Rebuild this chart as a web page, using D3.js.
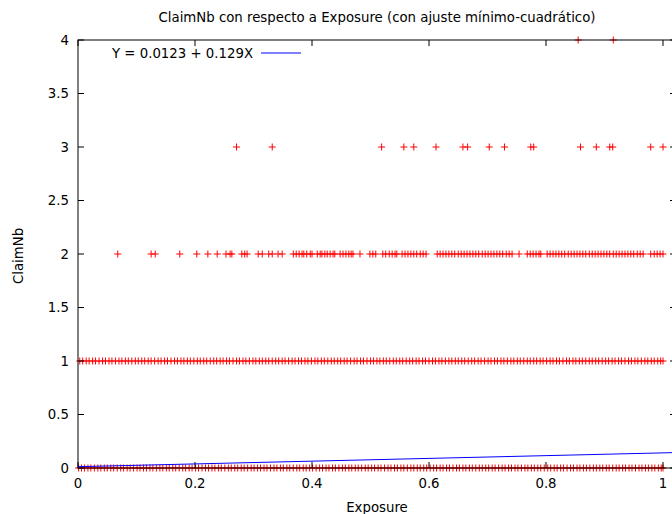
<!DOCTYPE html>
<html>
<head>
<meta charset="utf-8">
<script src="https://cdn.jsdelivr.net/npm/d3@7"></script>
<style>
  body { margin: 0; background: #fff; }
  svg { display: block; font-family: "DejaVu Sans", Verdana, sans-serif; }
</style>
</head>
<body>
<div id="chart"></div>
<script>
// Exposure values for each ClaimNb level
var exposure0 = [0.001,0.006,0.011,0.017,0.022,0.028,0.034,0.039,0.045,0.050,0.056,0.061,0.067,0.073,0.078,0.084,0.089,0.095,0.101,0.106,0.112,0.117,0.123,0.128,0.134,0.140,0.145,0.151,0.156,0.162,0.167,0.173,0.179,0.184,0.190,0.195,0.201,0.206,0.212,0.218,0.223,0.229,0.234,0.240,0.245,0.251,0.257,0.262,0.268,0.273,0.279,0.284,0.290,0.296,0.301,0.307,0.312,0.318,0.323,0.329,0.335,0.340,0.346,0.351,0.357,0.362,0.368,0.374,0.379,0.385,0.390,0.396,0.401,0.407,0.413,0.418,0.424,0.429,0.435,0.440,0.446,0.452,0.457,0.463,0.468,0.474,0.479,0.485,0.491,0.496,0.502,0.507,0.513,0.518,0.524,0.530,0.535,0.541,0.546,0.552,0.557,0.563,0.569,0.574,0.580,0.585,0.591,0.596,0.602,0.608,0.613,0.619,0.624,0.630,0.635,0.641,0.647,0.652,0.658,0.663,0.669,0.674,0.680,0.686,0.691,0.697,0.702,0.708,0.713,0.719,0.725,0.730,0.736,0.741,0.747,0.752,0.758,0.764,0.769,0.775,0.780,0.786,0.791,0.797,0.803,0.808,0.814,0.819,0.825,0.830,0.836,0.842,0.847,0.853,0.858,0.864,0.869,0.875,0.881,0.886,0.892,0.897,0.903,0.908,0.914,0.920,0.925,0.931,0.936,0.942,0.947,0.953,0.959,0.964,0.970,0.975,0.981,0.986,0.992,0.997,1.000];
var exposure1 = [0.003,0.008,0.014,0.019,0.025,0.030,0.036,0.042,0.047,0.053,0.058,0.064,0.070,0.075,0.081,0.086,0.092,0.098,0.103,0.109,0.114,0.120,0.125,0.131,0.137,0.142,0.148,0.153,0.159,0.165,0.170,0.176,0.181,0.187,0.192,0.198,0.204,0.209,0.215,0.220,0.226,0.232,0.237,0.243,0.248,0.254,0.259,0.265,0.271,0.276,0.282,0.287,0.293,0.299,0.304,0.310,0.315,0.321,0.326,0.332,0.338,0.343,0.349,0.354,0.360,0.366,0.371,0.377,0.382,0.388,0.393,0.399,0.405,0.410,0.416,0.421,0.427,0.433,0.438,0.444,0.449,0.455,0.460,0.466,0.472,0.477,0.483,0.488,0.494,0.500,0.505,0.511,0.516,0.522,0.527,0.533,0.539,0.544,0.550,0.555,0.561,0.567,0.572,0.578,0.583,0.589,0.594,0.600,0.606,0.611,0.617,0.622,0.628,0.634,0.639,0.645,0.650,0.656,0.661,0.667,0.673,0.678,0.684,0.689,0.695,0.701,0.706,0.712,0.717,0.723,0.728,0.734,0.740,0.745,0.751,0.756,0.762,0.768,0.773,0.779,0.784,0.790,0.795,0.801,0.807,0.812,0.818,0.823,0.829,0.835,0.840,0.846,0.851,0.857,0.862,0.868,0.874,0.879,0.885,0.890,0.896,0.902,0.907,0.913,0.918,0.924,0.929,0.935,0.941,0.946,0.952,0.957,0.963,0.969,0.974,0.980,0.985,0.991,0.996,1.000];
var exposure2 = [0.068,0.125,0.132,0.174,0.203,0.222,0.238,0.253,0.260,0.263,0.280,0.285,0.289,0.308,0.315,0.326,0.332,0.342,0.349,
  0.368,0.373,0.378,0.383,0.386,0.391,0.397,0.400,0.409,0.414,0.417,0.422,0.426,0.431,0.436,0.439,0.448,0.453,0.458,0.463,0.467,0.470,
  0.482,0.499,0.504,0.509,0.521,0.526,0.532,0.537,0.542,0.545,0.554,0.559,0.564,0.569,0.574,0.579,0.585,0.590,0.595,
  0.614,0.619,0.624,0.629,0.634,0.639,0.644,0.650,0.655,0.660,0.665,0.670,0.675,0.680,0.685,0.691,0.696,0.701,0.706,0.711,0.716,0.721,
  0.726,0.732,0.737,0.742,0.754,0.768,0.773,0.778,0.783,0.788,0.791,0.802,0.807,0.812,0.817,0.822,0.827,0.832,0.838,0.843,0.848,0.853,
  0.858,0.863,0.868,0.874,0.879,0.884,0.889,0.894,0.899,0.904,0.909,0.915,0.920,0.925,0.930,0.935,0.940,0.945,0.950,0.956,0.961,0.966,
  0.979,0.985,0.990,0.995,1.000];
var exposure3 = [0.271,0.332,0.519,0.557,0.574,0.612,0.658,0.666,0.703,0.729,0.774,0.779,0.859,0.886,0.909,0.914,0.979,1.000];
var exposure4 = [0.855,0.915];

var claimLevels = [0, 1, 2, 3, 4];
var xTicks = [0, 0.2, 0.4, 0.6, 0.8, 1];
var yTicks = [0, 0.5, 1, 1.5, 2, 2.5, 3, 3.5, 4];
var fitIntercept = 0.0123;
var fitSlope = 0.129;

(function () {
    var width = 672, height = 514;
    var plotLeft = 78, plotTop = 40, plotRight = 676, plotBottom = 468;
    var tickLen = 6;
    var fontSize = 13.3;

    var svg = d3.select('#chart').append('svg')
        .attr('width', width)
        .attr('height', height);

    var x = d3.scaleLinear().domain([0, 1]).range([plotLeft, 663]);
    var y = d3.scaleLinear().domain([0, 4]).range([plotBottom, plotTop]);

    // points
    var points = [];
    [exposure0, exposure1, exposure2, exposure3, exposure4].forEach(function (list, i) {
        list.forEach(function (e) { points.push({ x: e, y: claimLevels[i] }); });
    });

    var s = 3.5;
    svg.append('g').selectAll('path')
        .data(points)
        .enter().append('path')
        .attr('d', function (d) {
            var px = x(d.x), py = y(d.y);
            return 'M' + (px - s) + ',' + py + 'H' + (px + s) + 'M' + px + ',' + (py - s) + 'V' + (py + s);
        })
        .attr('stroke', '#ff0000')
        .attr('stroke-width', 1)
        .attr('fill', 'none');

    // axes (gnuplot style: inward ticks + mirror)
    var axes = svg.append('g').attr('stroke', '#000').attr('stroke-width', 1);

    xTicks.forEach(function (t) {
        axes.append('line').attr('x1', x(t)).attr('x2', x(t)).attr('y1', plotBottom).attr('y2', plotBottom - tickLen);
        axes.append('line').attr('x1', x(t)).attr('x2', x(t)).attr('y1', plotTop).attr('y2', plotTop + tickLen);
    });
    yTicks.forEach(function (t) {
        axes.append('line').attr('x1', plotLeft).attr('x2', plotLeft + tickLen).attr('y1', y(t)).attr('y2', y(t));
        axes.append('line').attr('x1', plotRight).attr('x2', plotRight - tickLen).attr('y1', y(t)).attr('y2', y(t));
    });
    axes.append('rect')
        .attr('x', plotLeft).attr('y', plotTop)
        .attr('width', plotRight - plotLeft).attr('height', plotBottom - plotTop)
        .attr('fill', 'none');

    // least-squares line
    var xEnd = x.invert(plotRight);
    svg.append('line')
        .attr('x1', x(0)).attr('y1', y(fitIntercept))
        .attr('x2', x(xEnd)).attr('y2', y(fitIntercept + fitSlope * xEnd))
        .attr('stroke', '#0000ff')
        .attr('stroke-width', 1);

    // tick labels
    svg.append('g').selectAll('text')
        .data(xTicks)
        .enter().append('text')
        .attr('x', function (d) { return x(d); })
        .attr('y', 488)
        .attr('text-anchor', 'middle')
        .attr('font-size', fontSize)
        .text(function (d) { return d3.format('~g')(d); });

    svg.append('g').selectAll('text')
        .data(yTicks)
        .enter().append('text')
        .attr('x', 69)
        .attr('y', function (d) { return y(d) + 4.5; })
        .attr('text-anchor', 'end')
        .attr('font-size', fontSize)
        .text(function (d) { return d3.format('~g')(d); });

    // titles
    svg.append('text')
        .attr('x', 377).attr('y', 22)
        .attr('text-anchor', 'middle')
        .attr('font-size', fontSize)
        .text('ClaimNb con respecto a Exposure (con ajuste mínimo-cuadrático)');

    svg.append('text')
        .attr('x', 377).attr('y', 512)
        .attr('text-anchor', 'middle')
        .attr('font-size', fontSize)
        .text('Exposure');

    svg.append('text')
        .attr('transform', 'translate(23,256) rotate(-90)')
        .attr('text-anchor', 'middle')
        .attr('font-size', fontSize)
        .text('ClaimNb');

    // key
    svg.append('text')
        .attr('x', 253).attr('y', 58)
        .attr('text-anchor', 'end')
        .attr('font-size', fontSize)
        .text('Y = ' + fitIntercept + ' + ' + fitSlope + 'X');
    svg.append('line')
        .attr('x1', 261).attr('x2', 301)
        .attr('y1', 53).attr('y2', 53)
        .attr('stroke', '#0000ff')
        .attr('stroke-width', 1);
})();
</script>
</body>
</html>
